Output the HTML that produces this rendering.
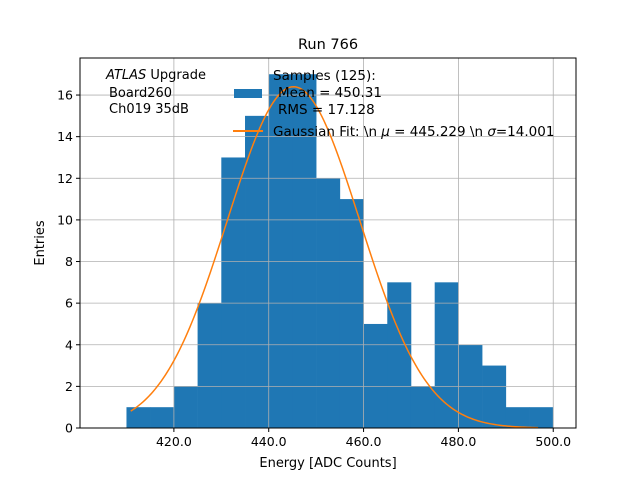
<!DOCTYPE html>
<html><head><meta charset="utf-8"><style>
body{margin:0;background:#fff}
svg text{font-family:"DejaVu Sans","Liberation Sans",sans-serif;fill:#000}
</style></head><body>
<svg id="chart" width="640" height="480" xmlns="http://www.w3.org/2000/svg">
<rect width="640" height="480" fill="#fff"/>
<g id="bars"></g>
<g id="grid"></g>
<g id="curve"></g>
<rect x="80" y="58" width="496" height="370" fill="none" stroke="#000" stroke-width="1"/>
<g id="ticks"></g>
<text x="328" y="49" font-size="14.5" text-anchor="middle">Run 766</text>
<text x="328" y="467" font-size="13" text-anchor="middle">Energy [ADC Counts]</text>
<text transform="translate(44,243) rotate(-90)" font-size="13" text-anchor="middle">Entries</text>
<g font-size="13">
<text x="106" y="79"><tspan font-style="italic">ATLAS</tspan> Upgrade</text>
<text x="109" y="97">Board260</text>
<text x="109" y="113">Ch019 35dB</text>
</g>
<g font-size="13.5">
<rect x="234" y="89" width="28" height="9" fill="#1f77b4"/>
<text x="273" y="80">Samples (125):</text>
<text x="278" y="97">Mean = 450.31</text>
<text x="278" y="114">RMS = 17.128</text>
<line x1="233" y1="131" x2="263" y2="131" stroke="#ff7f0e" stroke-width="2"/>
<text x="273" y="136">Gaussian Fit: \n <tspan font-style="italic">μ</tspan> = 445.229 \n <tspan font-style="italic">σ</tspan>=14.001</text>
</g>
</svg>
<script>
const binEdges=[410,415,420,425,430,435,440,445,450,455,460,465,470,475,480,485,490,495,500];
const counts=[1,1,2,6,13,15,17,17,12,11,5,7,2,7,4,3,1,1];
const xTicks=[420,440,460,480,500];
const yTicks=[0,2,4,6,8,10,12,14,16];
const fitMu=445.229, fitSigma=14.001, fitAmp=16.4, fitMin=410.9, fitMax=496.8;
const NS='http://www.w3.org/2000/svg';
const X0=80,X1=576,Y0=428,Y1=58,xmin=400.2,xmax=504.8,ymin=0,ymax=17.78;
const sx=v=>X0+(v-xmin)/(xmax-xmin)*(X1-X0);
const sy=v=>Y0-(v-ymin)/(ymax-ymin)*(Y0-Y1);
function mk(t,a,p){const e=document.createElementNS(NS,t);for(const k in a)e.setAttribute(k,a[k]);p.appendChild(e);return e;}
const bars=document.getElementById('bars');
counts.forEach((c,i)=>{
 const r=mk('rect',{x:sx(binEdges[i]),y:sy(c),width:sx(binEdges[i+1])-sx(binEdges[i])+0.3,height:sy(0)-sy(c),fill:'#1f77b4'},bars);
 
 
});
const grid=document.getElementById('grid'),ticks=document.getElementById('ticks');
xTicks.forEach(v=>{
 const x=sx(v);
 mk('line',{x1:x,x2:x,y1:Y1,y2:Y0,stroke:'#b0b0b0','stroke-width':0.8},grid);
 mk('line',{x1:x,x2:x,y1:Y0,y2:Y0+4,stroke:'#000'},ticks);
 const t=mk('text',{x:x,y:Y0+18,'font-size':12.5,'text-anchor':'middle'},ticks);
 t.textContent=v.toFixed(1);
 
 
});
yTicks.forEach(v=>{
 const y=sy(v);
 mk('line',{x1:X0,x2:X1,y1:y,y2:y,stroke:'#b0b0b0','stroke-width':0.8},grid);
 mk('line',{x1:X0-4,x2:X0,y1:y,y2:y,stroke:'#000'},ticks);
 const t=mk('text',{x:X0-7,y:y+4.5,'font-size':12.5,'text-anchor':'end'},ticks);
 t.textContent=v;
 
 
});
let d='';
for(let i=0;i<=200;i++){const v=fitMin+(fitMax-fitMin)*i/200;const g=fitAmp*Math.exp(-0.5*((v-fitMu)/fitSigma)**2);d+=(i?'L':'M')+sx(v).toFixed(2)+','+sy(g).toFixed(2);}
const p=mk('path',{d:d,fill:'none',stroke:'#ff7f0e','stroke-width':1.5},document.getElementById('curve'));


</script>
</body></html>
